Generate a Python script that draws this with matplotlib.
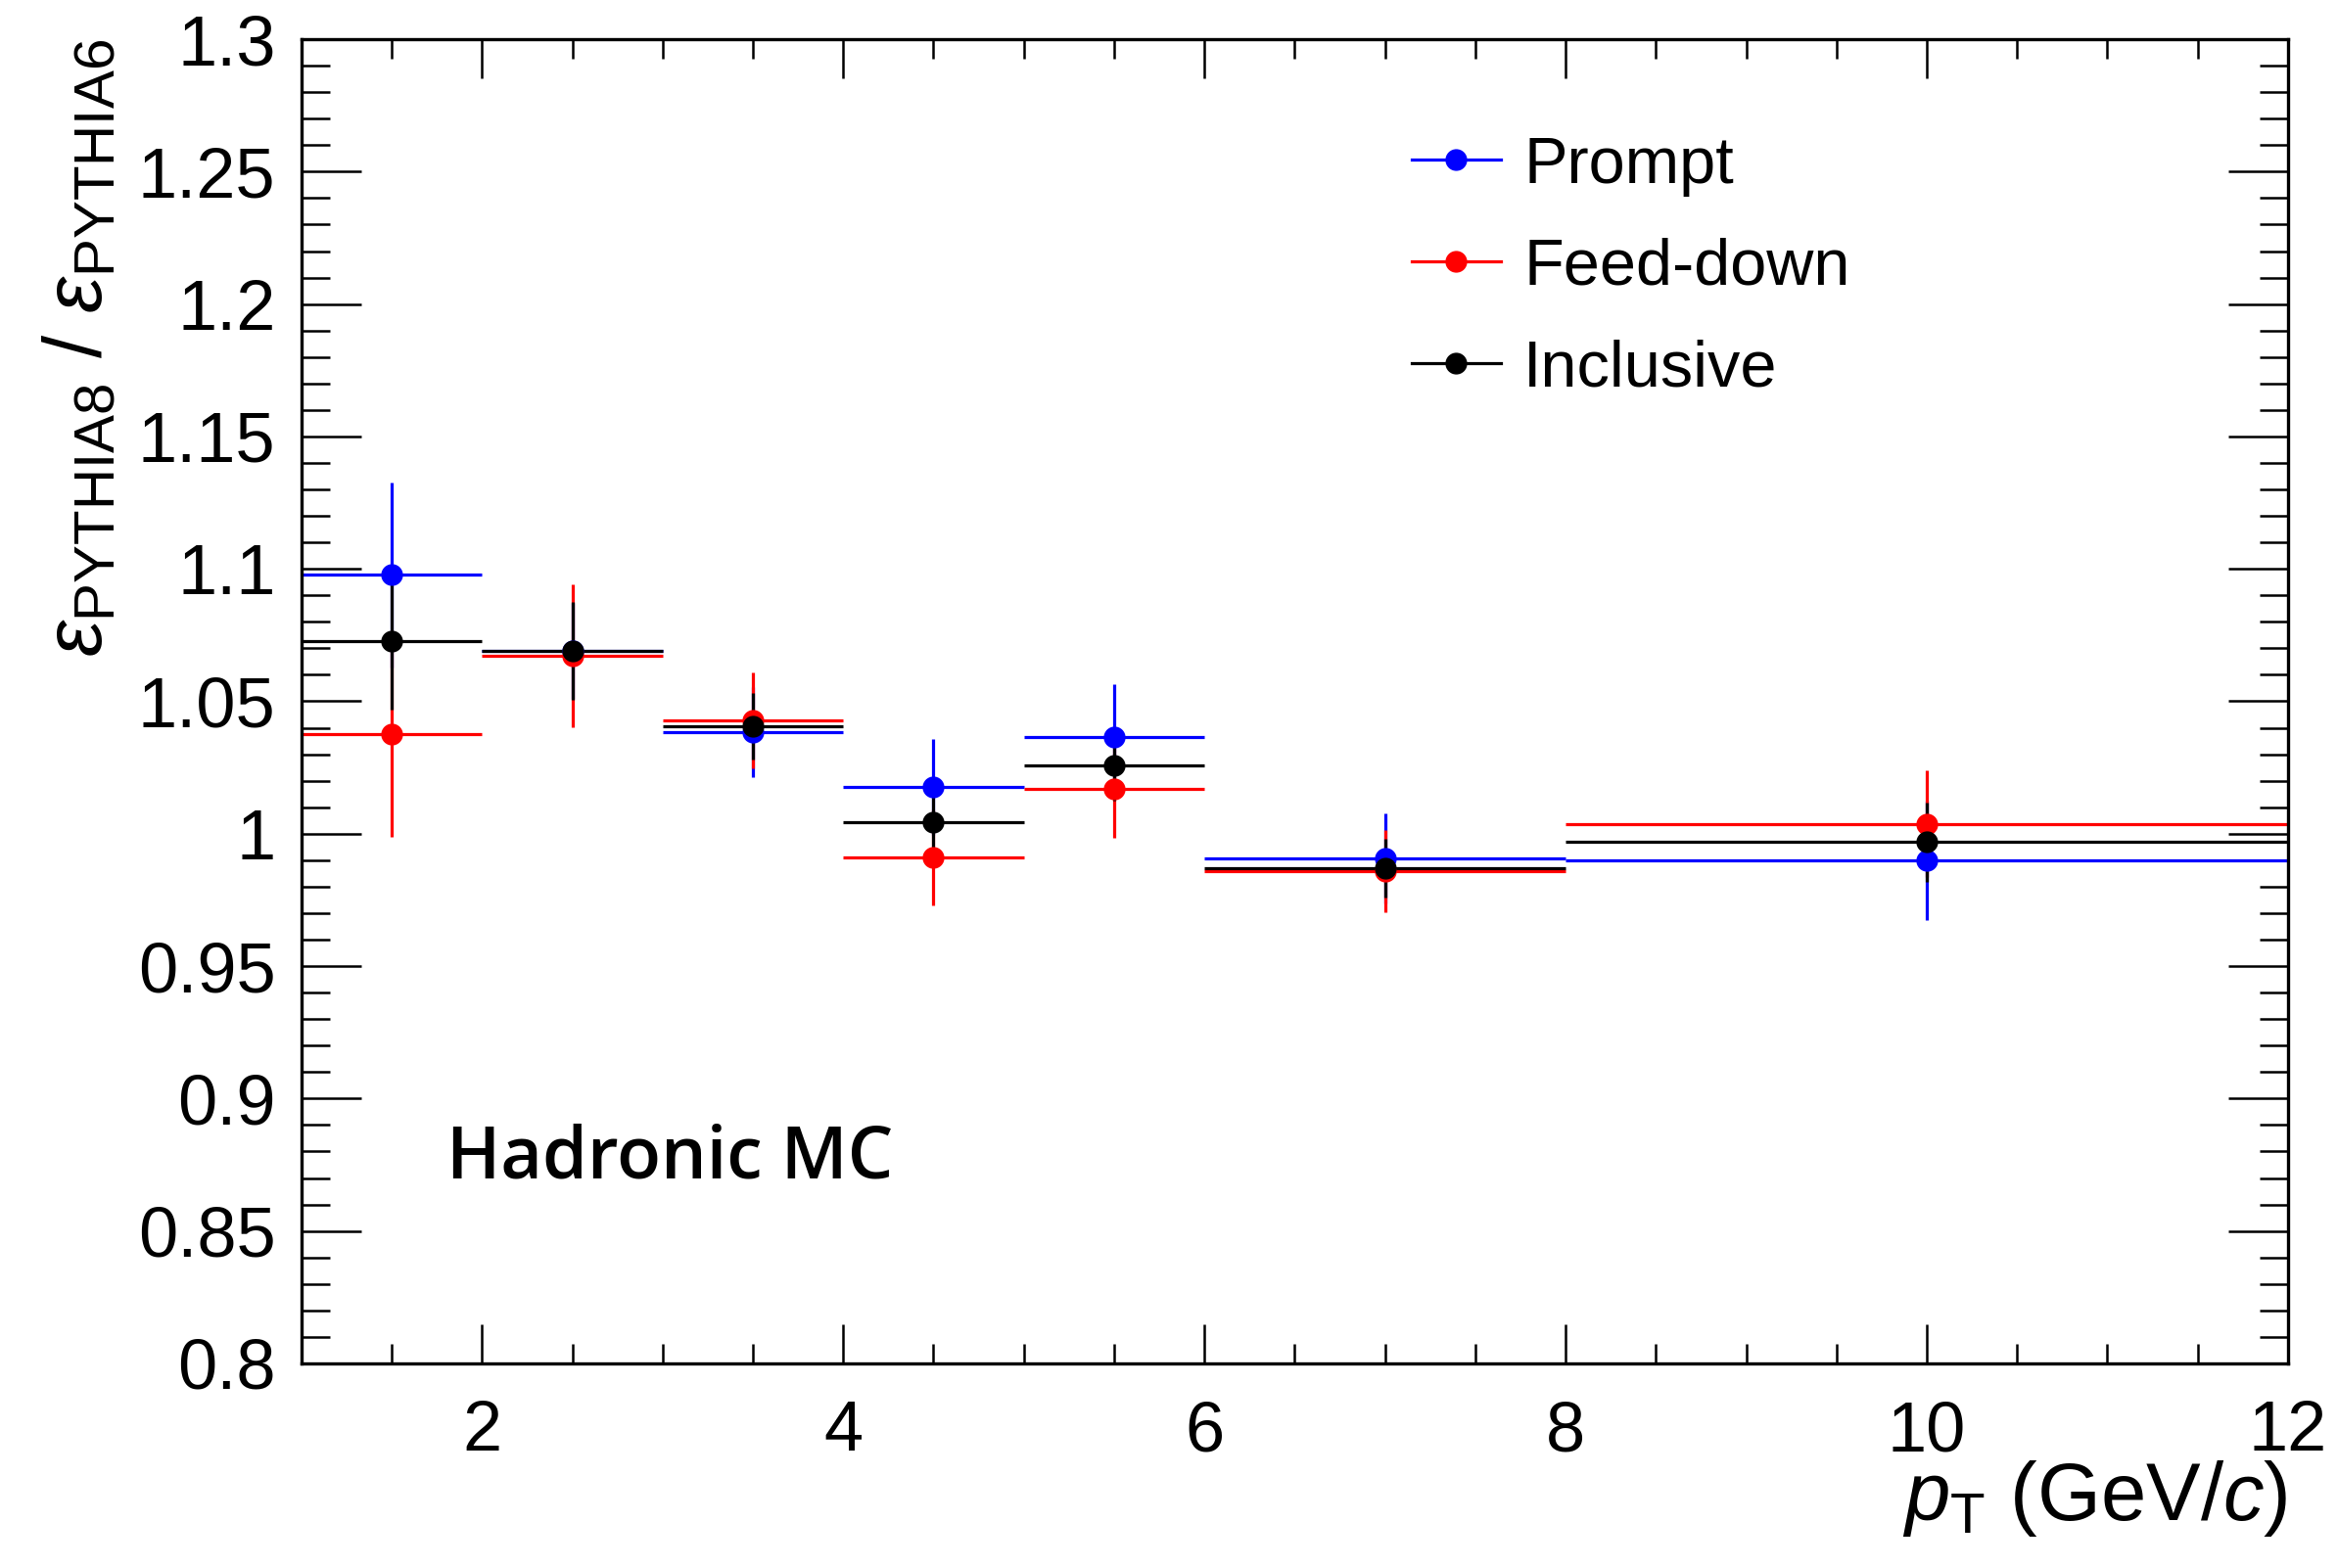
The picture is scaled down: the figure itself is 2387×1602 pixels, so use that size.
import matplotlib
matplotlib.use('Agg')
import matplotlib.pyplot as plt
from matplotlib.lines import Line2D
from matplotlib.ticker import MultipleLocator, FormatStrFormatter
import numpy as np

# pT bins (GeV/c)
pt_centers = [1.5, 2.5, 3.5, 4.5, 5.5, 7.0, 10.0]
pt_halfwidth = [0.5, 0.5, 0.5, 0.5, 0.5, 1.0, 2.0]

# efficiency ratio PYTHIA8 / PYTHIA6
prompt = [1.0977, 1.0690, 1.0385, 1.0177, 1.0364, 0.9905, 0.9900]
prompt_err = [0.035, 0.018, 0.017, 0.018, 0.020, 0.017, 0.0225]
feeddown = [1.0378, 1.0672, 1.0428, 0.9911, 1.0169, 0.9858, 1.0038]
feeddown_err = [0.039, 0.027, 0.018, 0.018, 0.0186, 0.0155, 0.020]
inclusive = [1.0727, 1.0690, 1.0406, 1.0043, 1.0259, 0.9870, 0.9968]
inclusive_err = [0.026, 0.0185, 0.0125, 0.013, 0.0134, 0.011, 0.015]

series = [
    ("Prompt", prompt, prompt_err, "#0000ff"),
    ("Feed-down", feeddown, feeddown_err, "#ff0000"),
    ("Inclusive", inclusive, inclusive_err, "#000000"),
]

plt.rcParams['font.family'] = ['Liberation Sans', 'DejaVu Sans']
plt.rcParams['mathtext.fontset'] = 'custom'
plt.rcParams['mathtext.rm'] = 'Liberation Sans'
plt.rcParams['mathtext.it'] = 'Liberation Sans:italic'

fig = plt.figure(figsize=(23.87, 16.02), dpi=100)
ax = fig.add_axes([0.129, 0.1305, 0.850, 0.8445])

handles = []
for name, vals, errs, col in series:
    ax.errorbar(pt_centers, vals, xerr=pt_halfwidth, yerr=errs, fmt='o',
                color=col, ms=15, elinewidth=2.3, capsize=0)
    handles.append(Line2D([], [], color=col, marker='o', ms=15, lw=2.3))

ax.set_xlim(1, 12)
ax.set_ylim(0.8, 1.3)

ax.xaxis.set_major_locator(MultipleLocator(2))
ax.xaxis.set_minor_locator(MultipleLocator(0.5))
ax.yaxis.set_major_locator(MultipleLocator(0.05))
ax.yaxis.set_minor_locator(MultipleLocator(0.01))
ax.yaxis.set_major_formatter(FormatStrFormatter('%g'))
ax.xaxis.set_major_formatter(FormatStrFormatter('%g'))

ax.tick_params(axis='both', which='both', direction='in', top=True, right=True,
               width=1.8, labelsize=52)
ax.tick_params(axis='x', which='major', length=29, pad=27)
ax.tick_params(axis='x', which='minor', length=14.5)
ax.tick_params(axis='y', which='major', length=44, pad=19)
ax.tick_params(axis='y', which='minor', length=21)
for sp in ax.spines.values():
    sp.set_linewidth(2.4)

ax.set_xlabel(r'$p_{\mathrm{T}}$ (GeV/$c$)', fontsize=60, loc='right')
ax.xaxis.set_label_coords(1.0, -0.072)
ax.set_ylabel(r'$\varepsilon_{\mathrm{PYTHIA8}}$ / $\varepsilon_{\mathrm{PYTHIA6}}$',
              fontsize=60, loc='top')
ax.yaxis.set_label_coords(-0.092, 1.0)

ax.text(0.073, 0.1397, 'Hadronic MC', transform=ax.transAxes, fontsize=53,
        fontfamily='Open Sans', fontweight='semibold', va='baseline')

ax.legend(handles, [s[0] for s in series], loc='upper left',
          bbox_to_anchor=(0.559, 0.927), frameon=False, fontsize=48,
          handlelength=1.36, handletextpad=0.35, labelspacing=0.63,
          borderpad=0, borderaxespad=0)

fig.savefig('out.png', dpi=100)
